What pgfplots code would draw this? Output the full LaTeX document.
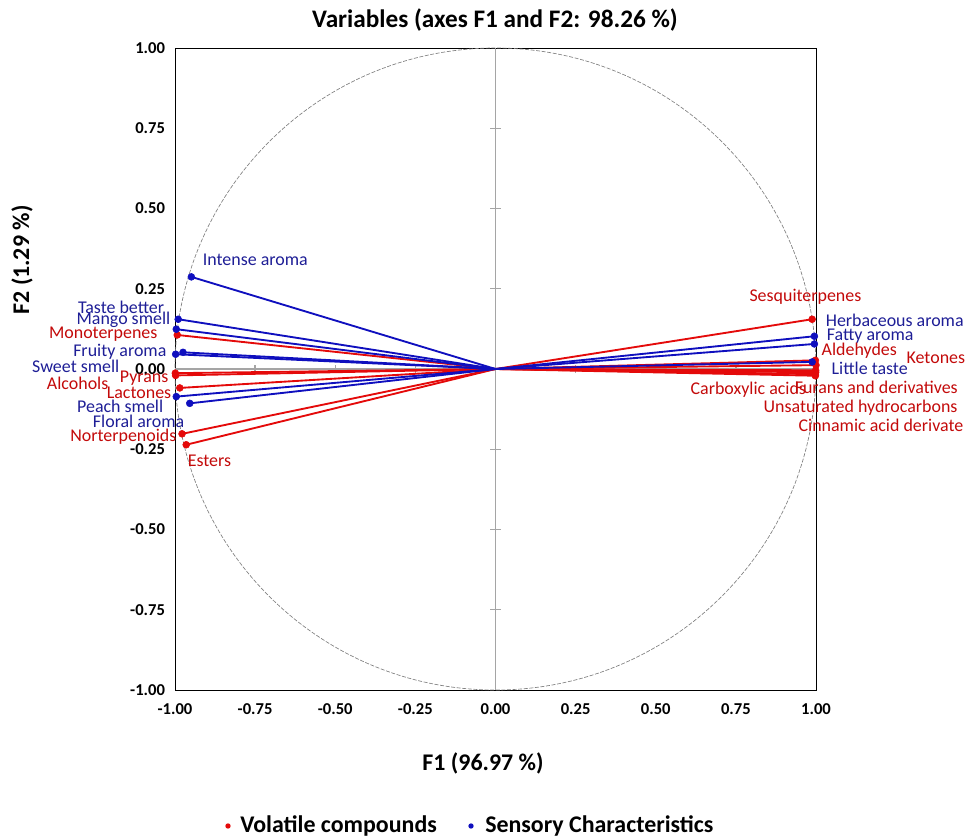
\documentclass[border=0pt]{standalone}
\usepackage{pgfplots}
\usepackage{pgfplotstable}
\pgfplotsset{compat=1.18}
\usepackage{fontspec}
\setmainfont{Carlito}
\definecolor{lred}{RGB}{228,10,10}
\definecolor{lblue}{RGB}{15,15,190}
\definecolor{tred}{RGB}{195,10,10}
\definecolor{tblue}{RGB}{30,30,150}
\definecolor{zgray}{RGB}{165,165,165}

\pgfplotstableread{
x y
0.988 0.155
0.998 0.027
1.000 0.012
0.999 -0.004
0.999 -0.010
0.998 -0.016
0.998 -0.021
-0.993 0.106
-0.999 -0.013
-0.998 -0.020
-0.985 -0.059
-0.978 -0.202
-0.965 -0.236
}\redtab

\pgfplotstableread{
x y
-0.949 0.287
-0.990 0.155
-0.996 0.124
-0.975 0.052
-0.998 0.046
-0.996 -0.086
-0.954 -0.107
0.995 0.102
0.995 0.078
0.988 0.022
}\bluetab

\newcommand{\lf}{\fontsize{13.5}{15}\selectfont}
\newcommand{\bigbf}{\bfseries\fontsize{18}{20}\selectfont}
\begin{document}
\begin{tikzpicture}
\path[use as bounding box] (-131.25bp,-111.75bp) rectangle (592.5bp,517.5bp);
\begin{axis}[
  scale only axis,
  width=480.75bp, height=481.5bp,
  xmin=-1, xmax=1, ymin=-1, ymax=1,
  xtick={-1,-0.75,...,1}, ytick={-1,-0.75,...,1},
  major tick length=0pt,
  axis line style={black, line width=0.6bp},
  clip=false,
  /pgf/number format/assume math mode=true,
  /pgf/number format/.cd, fixed, fixed zerofill, precision=2, /pgfplots/.cd,
  ticklabel style={font=\bfseries\fontsize{12.5}{14}\selectfont, text=black},
  xticklabel style={yshift=-7bp},
  yticklabel style={xshift=-4bp},
]
% zero lines and circle
\draw[zgray, line width=1.1bp] (axis cs:-1,0) -- (axis cs:1,0);
\draw[zgray, line width=1.1bp] (axis cs:0,-1) -- (axis cs:0,1);
\pgfplotsinvokeforeach{-0.75,-0.5,-0.25,0.25,0.5,0.75}{
  \draw[zgray, line width=1bp] (axis cs:#1,-0.012) -- (axis cs:#1,0.012);
  \draw[zgray, line width=1bp] (axis cs:-0.016,#1) -- (axis cs:0.016,#1);
}
\draw[gray, line width=0.5bp, dash pattern=on 3bp off 1.2bp] (axis cs:0,0) circle[x radius=240.375bp, y radius=240.75bp];

\addplot[lred, line width=1.4bp, quiver={u=\thisrow{x}, v=\thisrow{y}}] table[x expr=0, y expr=0] {\redtab};
\addplot[lblue, line width=1.4bp, quiver={u=\thisrow{x}, v=\thisrow{y}}] table[x expr=0, y expr=0] {\bluetab};
\addplot[only marks, mark=*, mark size=2.6pt, lred, mark options={fill=lred, draw=lred}] table[x=x, y=y] {\redtab};
\addplot[only marks, mark=*, mark size=2.6pt, lblue, mark options={fill=lblue, draw=lblue}] table[x=x, y=y] {\bluetab};

% labels left
\node[anchor=west, text=tblue, font=\lf, inner sep=0] at (axis cs:-0.914,0.340) {Intense aroma};
\node[anchor=east, text=tblue, font=\lf, inner sep=0] at (axis cs:-1.033,0.193) {Taste better};
\node[anchor=east, text=tblue, font=\lf, inner sep=0] at (axis cs:-1.014,0.153) {Mango smell};
\node[anchor=east, text=tred, font=\lf, inner sep=0] at (axis cs:-1.054,0.109) {Monoterpenes};
\node[anchor=east, text=tblue, font=\lf, inner sep=0] at (axis cs:-1.026,0.053) {Fruity aroma};
\node[anchor=east, text=tblue, font=\lf, inner sep=0] at (axis cs:-1.173,0.009) {Sweet smell};
\node[anchor=east, text=tred, font=\lf, inner sep=0] at (axis cs:-1.020,-0.028) {Pyrans};
\node[anchor=east, text=tred, font=\lf, inner sep=0] at (axis cs:-1.207,-0.044) {Alcohols};
\node[anchor=east, text=tred, font=\lf, inner sep=0] at (axis cs:-1.011,-0.075) {Lactones};
\node[anchor=east, text=tblue, font=\lf, inner sep=0] at (axis cs:-1.036,-0.115) {Peach smell};
\node[anchor=east, text=tblue, font=\lf, inner sep=0] at (axis cs:-0.970,-0.162) {Floral aroma};
\node[anchor=east, text=tred, font=\lf, inner sep=0] at (axis cs:-0.995,-0.212) {Norterpenoids};
\node[anchor=west, text=tred, font=\lf, inner sep=0] at (axis cs:-0.961,-0.287) {Esters};
% labels right
\node[anchor=center, text=tred, font=\lf, inner sep=0] at (axis cs:0.967,0.224) {Sesquiterpenes};
\node[anchor=west, text=tblue, font=\lf, inner sep=0] at (axis cs:1.030,0.153) {Herbaceous aroma};
\node[anchor=west, text=tblue, font=\lf, inner sep=0] at (axis cs:1.033,0.103) {Fatty aroma};
\node[anchor=west, text=tred, font=\lf, inner sep=0] at (axis cs:1.017,0.056) {Aldehydes};
\node[anchor=west, text=tred, font=\lf, inner sep=0] at (axis cs:1.282,0.034) {Ketones};
\node[anchor=west, text=tblue, font=\lf, inner sep=0] at (axis cs:1.048,0.003) {Little taste};
\node[anchor=west, text=tred, font=\lf, inner sep=0] at (axis cs:0.608,-0.065) {Carboxylic acids};
\node[anchor=west, text=tred, font=\lf, inner sep=0] at (axis cs:0.933,-0.056) {Furans and derivatives};
\node[anchor=west, text=tred, font=\lf, inner sep=0] at (axis cs:0.836,-0.121) {Unsaturated hydrocarbons};
\node[anchor=west, text=tred, font=\lf, inner sep=0] at (axis cs:0.945,-0.174) {Cinnamic acid derivate};
\end{axis}
% title, axis labels, legend
\node[font=\bfseries\fontsize{19}{21}\selectfont] at (240bp,502.5bp) {Variables (axes F1 and F2: 98.26 \%)};
\node[font=\bigbf] at (231bp,-54.75bp) {F1 (96.97 \%)};
\node[font=\bigbf, rotate=90] at (-114.75bp,322.5bp) {F2 (1.29 \%)};
\fill[lred] (39.75bp,-102bp) circle[radius=2bp];
\node[anchor=west, inner sep=0, font=\bigbf] at (48.75bp,-102bp) {Volatile compounds};
\fill[lblue] (222bp,-102bp) circle[radius=2bp];
\node[anchor=west, inner sep=0, font=\bigbf] at (232.5bp,-102bp) {Sensory Characteristics};
\end{tikzpicture}
\end{document}
